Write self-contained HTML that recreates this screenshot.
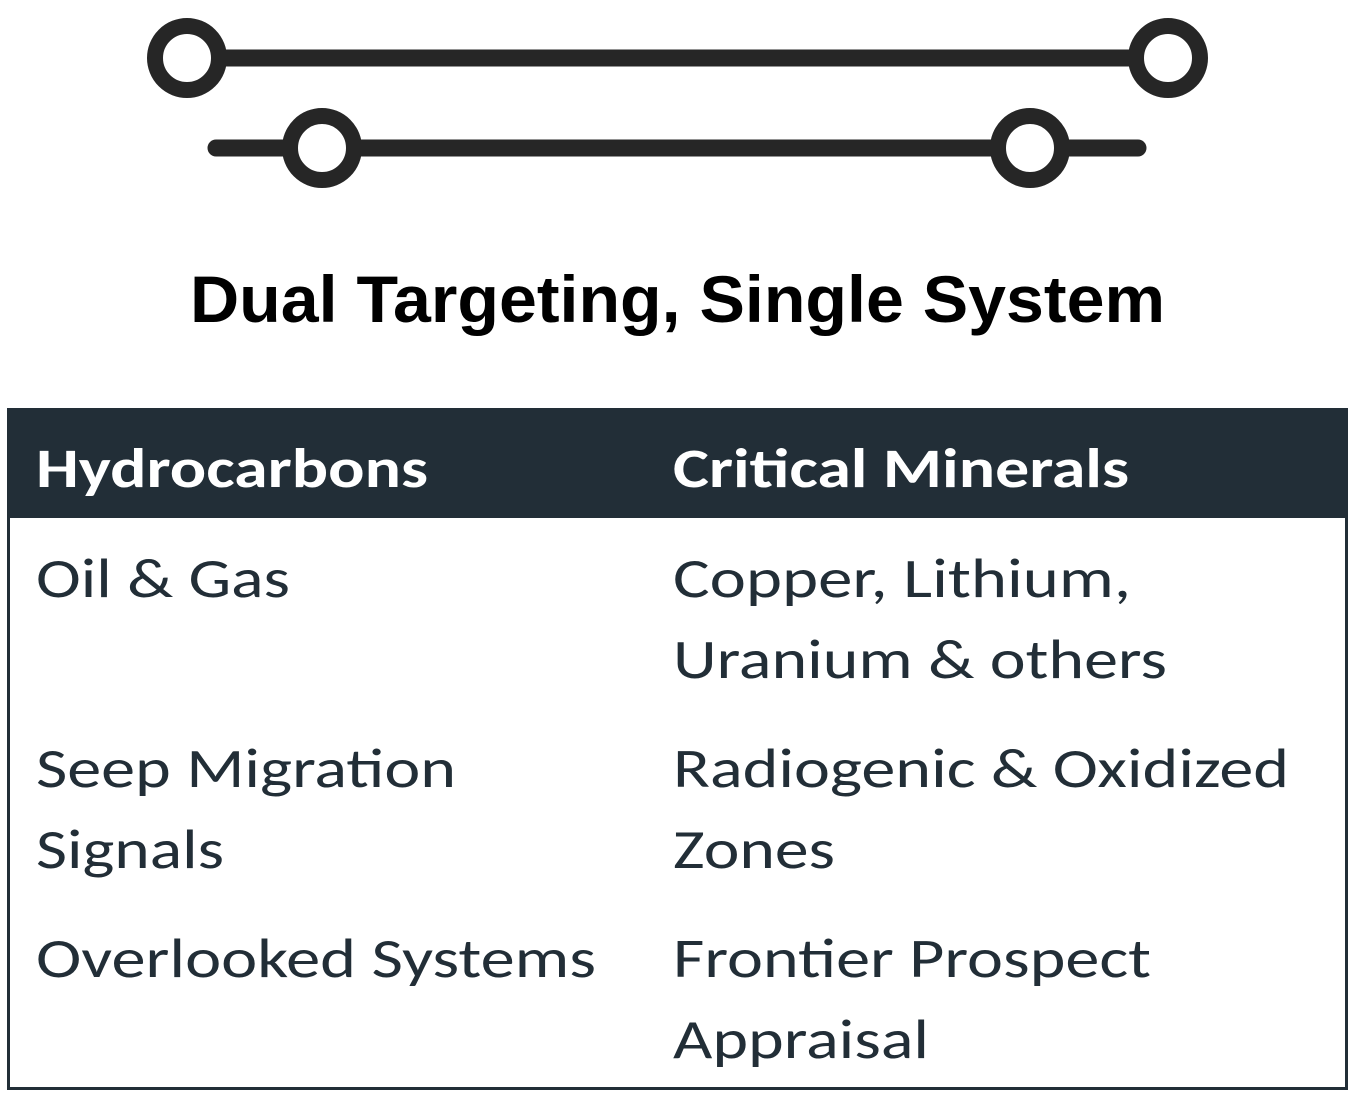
<!DOCTYPE html>
<html><head><style>html,body{margin:0;padding:0;background:#fff}svg{display:block}</style></head>
<body>
<svg width="1360" height="1104" viewBox="0 0 1360 1104" xmlns="http://www.w3.org/2000/svg">
<g stroke="#262626" stroke-linecap="round" fill="#fff">
<line x1="187" y1="58" x2="1168" y2="58" stroke-width="17"/>
<line x1="216" y1="148" x2="1138" y2="148" stroke-width="17"/>
<circle cx="187" cy="58" r="32" stroke-width="16"/>
<circle cx="1168" cy="58" r="32" stroke-width="16"/>
<circle cx="322" cy="148" r="32" stroke-width="16"/>
<circle cx="1030" cy="148" r="32" stroke-width="16"/>
</g>
<text x="190" y="322" font-family="Liberation Sans, Arial, sans-serif" font-weight="bold" font-size="66" textLength="975" lengthAdjust="spacingAndGlyphs" fill="#000">Dual Targeting, Single System</text>
<rect x="8.5" y="409.5" width="1338" height="679" fill="#fff" stroke="#222e37" stroke-width="3"/>
<rect x="7" y="408" width="1341" height="110" fill="#222e37"/>
<g font-family="Carlito, Liberation Sans, sans-serif" font-size="56">
<text x="36" y="487" fill="#fff" font-weight="bold" textLength="392" lengthAdjust="spacingAndGlyphs">Hydrocarbons</text>
<text x="673" y="487" fill="#fff" font-weight="bold" textLength="456" lengthAdjust="spacingAndGlyphs">Critical Minerals</text>
<g fill="#222e37">
<text x="36" y="597" textLength="254" lengthAdjust="spacingAndGlyphs">Oil &amp; Gas</text>
<text x="36" y="787" textLength="420" lengthAdjust="spacingAndGlyphs">Seep Migration</text>
<text x="36" y="868" textLength="188" lengthAdjust="spacingAndGlyphs">Signals</text>
<text x="36" y="977" textLength="560" lengthAdjust="spacingAndGlyphs">Overlooked Systems</text>
<text x="673" y="597" textLength="458" lengthAdjust="spacingAndGlyphs">Copper, Lithium,</text>
<text x="673" y="678" textLength="494" lengthAdjust="spacingAndGlyphs">Uranium &amp; others</text>
<text x="673" y="787" textLength="616" lengthAdjust="spacingAndGlyphs">Radiogenic &amp; Oxidized</text>
<text x="673" y="868" textLength="162" lengthAdjust="spacingAndGlyphs">Zones</text>
<text x="673" y="977" textLength="478" lengthAdjust="spacingAndGlyphs">Frontier Prospect</text>
<text x="673" y="1058" textLength="256" lengthAdjust="spacingAndGlyphs">Appraisal</text>
</g>
</g>
</svg>
</body></html>
